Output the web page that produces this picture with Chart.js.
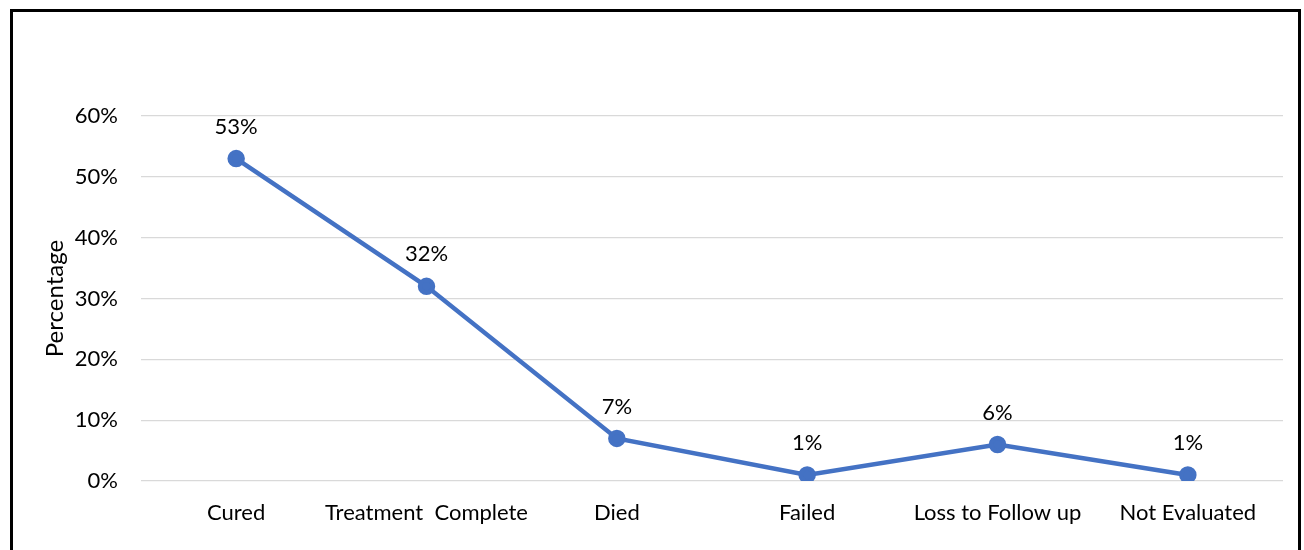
<!DOCTYPE html>
<html>
<head>
<meta charset="utf-8">
<script src="https://cdn.jsdelivr.net/npm/chart.js@4/dist/chart.umd.min.js"></script>
<style>
    body { margin: 0; background: #fff; overflow: hidden; }
    #frame {
        position: absolute; left: 10px; top: 9px;
        width: 1285px; height: 560px;
        border: 3px solid #000; background: #fff;
    }
    #myChart { display: block; }
</style>
</head>
<body>
<div id="frame"><canvas id="myChart" width="1285" height="538"></canvas></div>
<script>
const categories = ['Cured', 'Treatment  Complete', 'Died', 'Failed', 'Loss to Follow up', 'Not Evaluated'];
const percentages = [53, 32, 7, 1, 6, 1];
const yTicks = [0, 10, 20, 30, 40, 50, 60];

const FONT = 'Lato, "Open Sans", sans-serif';

// labels above each point
const valueLabels = {
    id: 'valueLabels',
    afterDatasetsDraw(chart) {
        const c = chart.ctx;
        const meta = chart.getDatasetMeta(0);
        c.save();
        c.font = '22px ' + FONT;
        c.fillStyle = '#000';
        c.textAlign = 'center';
        c.textBaseline = 'middle';
        meta.data.forEach((pt, i) => {
            c.fillText(percentages[i] + '%', pt.x, pt.y - 32);
        });
        c.restore();
    }
};

document.addEventListener('DOMContentLoaded', () => {
    const ctx = document.querySelector('#myChart').getContext('2d');

    new Chart(ctx, {
        type: 'line',
        data: {
            labels: categories,
            datasets: [{
                label: 'Percentage',
                data: percentages,
                borderColor: '#4472C4',
                backgroundColor: '#4472C4',
                borderWidth: 4.5,
                pointRadius: 6.5,
                pointHoverRadius: 6.5,
                tension: 0
            }]
        },
        options: {
            responsive: false,
            animation: false,
            layout: { padding: { top: 104, right: 15, left: 0, bottom: 0 } },
            plugins: {
                legend: { display: false },
                tooltip: { enabled: false }
            },
            scales: {
                x: {
                    offset: true,
                    grid: { display: false, drawTicks: false },
                    border: { display: false },
                    ticks: {
                        color: '#000',
                        font: { family: FONT, size: 22 },
                        padding: 19,
                        maxRotation: 0,
                        autoSkip: false
                    },
                    afterFit: (s) => { s.height = 69; }
                },
                y: {
                    min: 0,
                    max: 60,
                    afterBuildTicks: (s) => { s.ticks = yTicks.map(v => ({ value: v })); },
                    grid: { color: '#d9d9d9', lineWidth: 1.3, drawTicks: false },
                    border: { display: false },
                    ticks: {
                        color: '#000',
                        font: { family: FONT, size: 22 },
                        padding: 23,
                        callback: (v) => v + '%'
                    },
                    title: {
                        display: true,
                        text: 'Percentage',
                        color: '#000',
                        font: { family: FONT, size: 24 },
                        padding: { top: 28, bottom: 0 }
                    },
                    afterFit: (s) => { s.width = 128; }
                }
            }
        },
        plugins: [valueLabels]
    });
});
</script>
</body>
</html>
